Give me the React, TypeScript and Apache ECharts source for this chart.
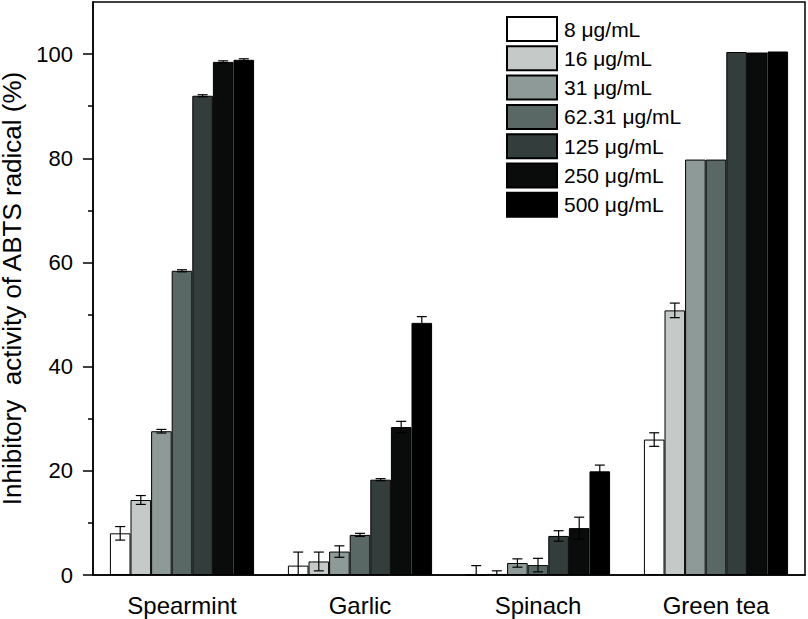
import React, { useEffect, useRef } from "react";
import * as echarts from "echarts";

const categories = ["Spearmint", "Garlic", "Spinach", "Green tea"];
const concentrations = ["8 μg/mL", "16 μg/mL", "31 μg/mL", "62.31 μg/mL", "125 μg/mL", "250 μg/mL", "500 μg/mL"];
const barColors = ["#ffffff", "#c5cac8", "#8e9a97", "#5a6865", "#323d3c", "#0a0c0b", "#000000"];

const c8 = [8.0, 1.8, 0.0, 26.0];
const c16 = [14.4, 2.6, 0.2, 50.8];
const c31 = [27.6, 4.5, 2.3, 79.75];
const c62 = [58.4, 7.7, 1.9, 79.75];
const c125 = [92.0, 18.3, 7.5, 100.4];
const c250 = [98.5, 28.4, 9.0, 100.3];
const c500 = [98.9, 48.4, 19.9, 100.5];

const e8 = [1.3, 2.6, 1.8, 1.3];
const e16 = [0.85, 1.8, 0.6, 1.4];
const e31 = [0.35, 1.1, 0.8, 0];
const e62 = [0.2, 0.3, 1.3, 0];
const e125 = [0.2, 0.2, 1.0, 0];
const e250 = [0.2, 1.1, 2.1, 0];
const e500 = [0.2, 1.2, 1.2, 0];

const yMajorTicks = [0, 20, 40, 60, 80, 100];
const yMinorTicks = [10, 30, 50, 70, 90];

const seriesValues = [c8, c16, c31, c62, c125, c250, c500];
const seriesErrors = [e8, e16, e31, e62, e125, e250, e500];

const FONT = "Liberation Sans, Arial, Helvetica, sans-serif";
const CAT_GAP = 0.19;

export default function App() {
  const ref = useRef<HTMLDivElement>(null);
  useEffect(() => {
    document.body.style.margin = "0";
    if (!ref.current) return;
    const chart = echarts.init(ref.current, null, { renderer: "svg" });
    const n = concentrations.length;

    const barSeries = concentrations.map((name, i) => ({
      name,
      type: "bar",
      data: seriesValues[i],
      barGap: "0%",
      barCategoryGap: CAT_GAP * 100 + "%",
      itemStyle: { color: barColors[i], borderColor: "#000", borderWidth: 1 },
      z: 2,
    }));

    const errSeries = concentrations.map((name, i) => ({
      name: name + " err",
      type: "custom",
      z: 5,
      encode: { x: 0, y: 1 },
      data: seriesValues[i].map((v, k) => [k, v, seriesErrors[i][k]]),
      renderItem: (params: any, api: any) => {
        const idx = api.value(0);
        const v = api.value(1);
        const e = api.value(2);
        if (!e) return null;
        const center = api.coord([idx, v]);
        const band = api.size([1, 0])[0];
        const bw = (band * (1 - CAT_GAP)) / n;
        const x = center[0] + (i - (n - 1) / 2) * bw;
        const yTop = api.coord([idx, v + e])[1];
        const lowV = v - e;
        const yBot = api.coord([idx, Math.max(0, lowV)])[1];
        const hw = 5;
        const style = { stroke: "#000", lineWidth: 1.2 };
        const children: any[] = [
          { type: "line", shape: { x1: x, y1: yTop, x2: x, y2: yBot }, style },
          { type: "line", shape: { x1: x - hw, y1: yTop, x2: x + hw, y2: yTop }, style },
        ];
        if (lowV > 0) {
          children.push({ type: "line", shape: { x1: x - hw, y1: yBot, x2: x + hw, y2: yBot }, style });
        }
        return { type: "group", children };
      },
    }));

    chart.setOption({
      animation: false,
      textStyle: { fontFamily: FONT, color: "#000" },
      grid: {
        left: 93,
        right: 3,
        top: 2,
        bottom: 44,
        show: true,
        borderColor: "#000",
        borderWidth: 1.5,
        backgroundColor: "transparent",
        containLabel: false,
        outerBoundsMode: "none",
      },
      legend: {
        data: concentrations,
        orient: "vertical",
        left: 501,
        top: 11,
        padding: 5,
        itemWidth: 50,
        itemHeight: 24,
        itemGap: 3.3,
        icon: "rect",
        textStyle: { fontSize: 21, lineHeight: 24, color: "#000", fontFamily: FONT, padding: [0, 0, 0, 2] },
      },
      xAxis: {
        type: "category",
        data: categories,
        axisLine: { lineStyle: { color: "#000", width: 1.5 } },
        axisTick: { alignWithLabel: true, length: 10, lineStyle: { color: "#000", width: 1.5 } },
        axisLabel: { fontSize: 24, color: "#000", margin: 18, fontFamily: FONT },
        splitLine: { show: false },
      },
      yAxis: [
        {
          type: "value",
          min: 0,
          max: 110,
          name: "Inhibitory  activity of ABTS radical (%)",
          nameLocation: "middle",
          nameGap: 55,
          nameTextStyle: { fontSize: 26, color: "#000", fontFamily: FONT },
          axisLine: { show: true, lineStyle: { color: "#000", width: 1.5 } },
          axisTick: { show: true, length: 10, customValues: yMajorTicks, lineStyle: { color: "#000", width: 1.5 } },
          axisLabel: { fontSize: 22, color: "#000", margin: 20, customValues: yMajorTicks, fontFamily: FONT },
          splitLine: { show: false },
        },
        {
          type: "value",
          min: 0,
          max: 110,
          position: "left",
          axisLine: { show: false },
          axisTick: { show: true, length: 5, customValues: yMinorTicks, lineStyle: { color: "#000", width: 1.5 } },
          axisLabel: { show: false },
          splitLine: { show: false },
        },
      ],
      series: [...barSeries, ...errSeries],
    });
    return () => chart.dispose();
  }, []);
  return <div ref={ref} style={{ width: 808, height: 619 }} />;
}
